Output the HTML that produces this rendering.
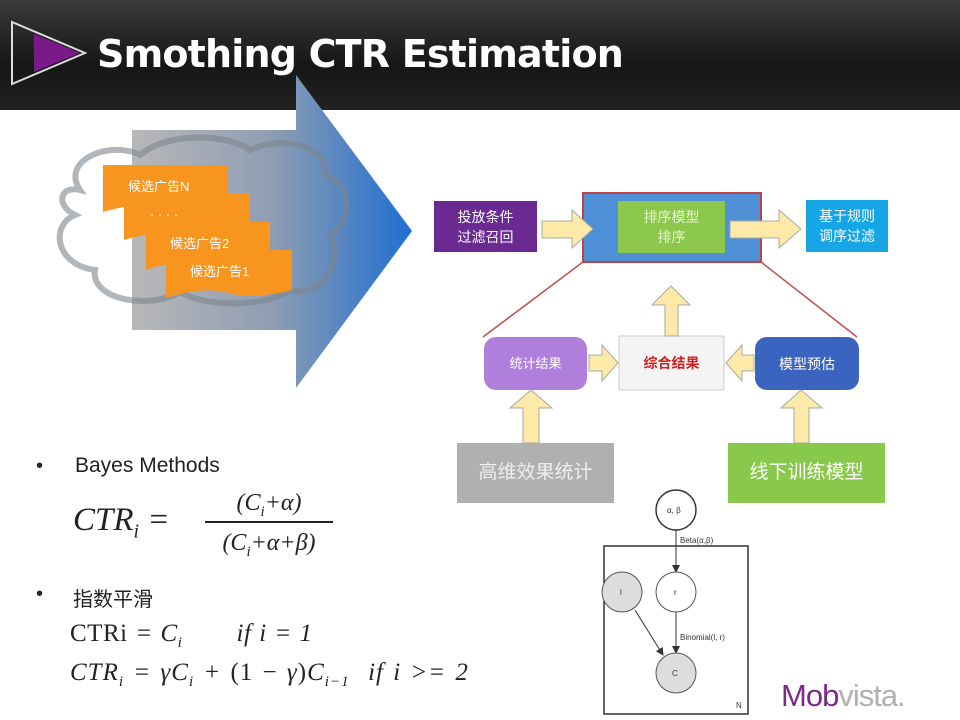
<!DOCTYPE html>
<html><head><meta charset="utf-8"><style>
body{margin:0;width:960px;height:720px;overflow:hidden;background:#fff;position:relative;font-family:"Liberation Sans","Noto Sans CJK SC",sans-serif}
.a{position:absolute}
.hdr{left:0;top:0;width:960px;height:110px;background:linear-gradient(#3a3a3a,#161616 60%,#222)}
.cn{font-family:"Liberation Sans","Noto Sans CJK SC",sans-serif;color:#fff;display:flex;align-items:center;justify-content:center;text-align:center;font-size:14px;line-height:20px}
.m{font-family:"Liberation Serif","DejaVu Serif",serif;font-style:italic;color:#222;white-space:nowrap}
</style></head><body>
<div class="a hdr"></div>
<svg class="a" style="left:0;top:0" width="960" height="720">
<defs>
<linearGradient id="g" x1="0" x2="1"><stop offset="0" stop-color="#b8b8b8"/><stop offset="0.5" stop-color="#8f9db3"/><stop offset="1" stop-color="#1f6fd0"/></linearGradient>
<marker id="ar" markerWidth="8" markerHeight="8" refX="7" refY="4" orient="auto"><path d="M0,0L8,4L0,8z" fill="#333"/></marker>
</defs>
<polygon points="12,22 12,84 85,53" fill="none" stroke="#ddd" stroke-width="2"/>
<polygon points="34,34 34,72 80,53" fill="#7a1a8a"/>
<polygon points="132,130 296,130 296,75 412,231 296,388 296,330 132,330" fill="url(#g)"/>
<path d="M80,190 C60,160 110,140 140,155 C170,130 230,135 250,150 C280,135 330,145 325,175 C355,185 350,225 330,235 C345,260 320,300 290,290 C260,310 200,305 180,292 C150,310 90,300 95,270 C55,265 50,225 75,215 C55,205 60,185 80,190Z" fill="none" stroke="#7d858c" stroke-width="6" opacity="0.6"/>
<g fill="#f7951f">
<path d="M103,165H228V205Q190,215 165,208T103,212Z"/>
<path d="M124,193H250V233Q210,243 186,236T124,240Z"/>
<path d="M146,222H270V262Q230,272 205,265T146,270Z"/>
<path d="M166,250H292V290Q252,300 228,293T166,298Z"/>
</g>
<g fill="#fff" font-size="13" font-family="Liberation Sans,Noto Sans CJK SC,sans-serif">
<text x="128" y="191">候选广告N</text><text x="150" y="219">· · · ·</text>
<text x="170" y="248">候选广告2</text><text x="190" y="276">候选广告1</text>
</g>
<line x1="583" y1="262" x2="483" y2="337" stroke="#c0504d" stroke-width="1.5"/>
<line x1="761" y1="262" x2="857" y2="337" stroke="#c0504d" stroke-width="1.5"/>
<rect x="434" y="201" width="103" height="51" fill="#6a2a92"/>
<rect x="583" y="193" width="178" height="69" fill="#4f8fd6" stroke="#c0404a" stroke-width="2"/>
<rect x="618" y="201" width="107" height="52" fill="#8cc84b"/>
<rect x="806" y="200" width="82" height="52" fill="#16a6e6"/>
<rect x="484" y="337" width="103" height="53" rx="12" fill="#b07fdc"/>
<rect x="619" y="336" width="105" height="54" fill="#f4f4f4" stroke="#ccc"/>
<rect x="755" y="337" width="104" height="53" rx="12" fill="#3b63c0"/>
<rect x="457" y="443" width="157" height="60" fill="#b0b0b0"/>
<rect x="728" y="443" width="157" height="60" fill="#88c84a"/>
<g fill="#fde9a8" stroke="#a8a8a0" stroke-width="1">
<path d="M542,221H572V210L593,229L572,248V238H542Z"/>
<path d="M730,221H779V210L801,229L779,248V238H730Z"/>
<path d="M589,355H602V345L618,363L602,381V371H589Z"/>
<path d="M754,355H742V345L726,363L742,381V371H754Z"/>
<path d="M665,336V305H652L671,286L690,305H678V336Z"/>
<path d="M523,443V408H510L531,390L552,408H539V443Z"/>
<path d="M794,443V408H781L801,390L822,408H809V443Z"/>
</g>
<line x1="676" y1="530" x2="676" y2="572" stroke="#333" marker-end="url(#ar)"/>
<line x1="676" y1="612" x2="676" y2="653" stroke="#333" marker-end="url(#ar)"/>
<line x1="635" y1="610" x2="663" y2="655" stroke="#333" marker-end="url(#ar)"/>
<rect x="604" y="546" width="144" height="168" fill="none" stroke="#333" stroke-width="1.5"/>
<circle cx="676" cy="510" r="20" fill="#fff" stroke="#333" stroke-width="1.5"/>
<circle cx="622" cy="592" r="20" fill="#ddd" stroke="#555"/>
<circle cx="676" cy="592" r="20" fill="#fff" stroke="#555"/>
<circle cx="676" cy="673" r="20" fill="#ddd" stroke="#555"/>
<g font-size="8" fill="#333" font-family="Liberation Sans,sans-serif">
<text x="667" y="513">α, β</text><text x="680" y="543">Beta(α,β)</text>
<text x="620" y="595">l</text><text x="674" y="595">r</text><text x="672" y="676">C</text>
<text x="680" y="640">Binomial(l, r)</text><text x="736" y="708">N</text>
</g>
</svg>
<div class="a" style="left:97px;top:32px;color:#fff;font-size:38px;font-weight:bold;font-family:'DejaVu Sans',sans-serif;letter-spacing:-0.8px">Smothing CTR Estimation</div>
<div class="a cn" style="left:434px;top:201px;width:103px;height:51px">投放条件<br>过滤召回</div>
<div class="a cn" style="left:618px;top:201px;width:107px;height:52px;color:#e8f5d8">排序模型<br>排序</div>
<div class="a cn" style="left:806px;top:200px;width:82px;height:52px">基于规则<br>调序过滤</div>
<div class="a cn" style="left:484px;top:337px;width:103px;height:53px;font-size:13px">统计结果</div>
<div class="a cn" style="left:619px;top:336px;width:105px;height:54px;color:#d02020;font-weight:bold">综合结果</div>
<div class="a cn" style="left:755px;top:337px;width:104px;height:53px">模型预估</div>
<div class="a cn" style="left:457px;top:443px;width:157px;height:60px;font-size:19px;color:#eee">高维效果统计</div>
<div class="a cn" style="left:728px;top:443px;width:157px;height:60px;font-size:19px">线下训练模型</div>
<div class="a" style="left:36px;top:455px;font-size:20px;color:#222">•</div>
<div class="a" style="left:75px;top:454px;font-size:21px;color:#222">Bayes Methods</div>
<div class="a m" style="left:73px;top:502px;font-size:33px">CTR<sub style="font-size:20px">i</sub> =</div>
<div class="a m" style="left:205px;top:490px;font-size:24px;width:128px;text-align:center">(C<sub style="font-size:15px">i</sub>+α)</div>
<div class="a" style="left:205px;top:521px;width:128px;height:1.5px;background:#222"></div>
<div class="a m" style="left:205px;top:530px;font-size:24px;width:128px;text-align:center">(C<sub style="font-size:15px">i</sub>+α+β)</div>
<div class="a" style="left:36px;top:583px;font-size:20px;color:#222">•</div>
<div class="a" style="left:73px;top:583px;font-size:20px;color:#222">指数平滑</div>
<div class="a m" style="left:70px;top:620px;font-size:25px;letter-spacing:0.5px;word-spacing:1px"><span style="font-style:normal">CTRi</span> = C<sub style="font-size:15px">i</sub> &nbsp;&nbsp;&nbsp;&nbsp;&nbsp; if i = 1</div>
<div class="a m" style="left:70px;top:659px;font-size:25px;letter-spacing:1px;word-spacing:2px">CTR<sub style="font-size:15px">i</sub> = γC<sub style="font-size:15px">i</sub> + <span style="font-style:normal">(1 − </span>γ<span style="font-style:normal">)</span>C<sub style="font-size:15px">i−1</sub> &nbsp;if i &gt;= 2</div>
<div class="a" style="left:781px;top:678px;font-size:31px;letter-spacing:-1px"><span style="color:#7b2a8a">Mob</span><span style="color:#b0b0b0">vista.</span></div>
</body></html>
